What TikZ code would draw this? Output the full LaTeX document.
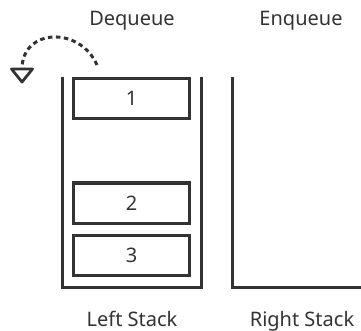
\documentclass[tikz,border=0pt]{standalone}
\usepackage{fontspec}
\setmainfont{Noto Sans}
\definecolor{ink}{HTML}{333333}
\begin{document}
\begin{tikzpicture}[x=1pt,y=-1pt,
  wall/.style={draw=ink,line width=3pt},
  item/.style={draw=ink,line width=3pt,minimum width=116pt,minimum height=40pt,
    inner sep=0pt,font=\fontsize{20}{24}\selectfont,text=ink},
  label/.style={font=\fontsize{20}{24}\selectfont,text=ink,inner sep=0pt,anchor=base},
  flow/.style={draw=ink,line width=3pt,dash pattern=on 4.5pt off 3.5pt},
  head/.style={draw=ink,line width=2.8pt,line join=round}]
\useasboundingbox (0,0) rectangle (361,331);
\clip (0,0) rectangle (361,331);

% column labels
\node[label] (deq) at (132,26) {Dequeue};
\node[label] (enq) at (301,26) {Enqueue};
\node[label] (ls) at (132,326) {Left Stack};
\node[label] (rs) at (302,326) {Right Stack};

% the two stacks
\draw[wall] (62,77) -- (62,287) -- (201,287) -- (201,77);
\draw[wall] (232,77) -- (232,287) -- (370,287);

% items held in the left stack
\node[item] (b1) at (131.5,98.5) {1};
\node[item] (b2) at (131.5,203) {2};
\node[item] (b3) at (131.5,255.5) {3};

% dequeue arrow leaving the top of the left stack
\coordinate (out) at (22,82);
\coordinate (neck) at (22,69);
\draw[flow] (b1.north west) ++(25,-12) .. controls (80,26) and (22,28) .. (neck);
\draw[head] (neck) ++(-10.5,0) -- ++(21,0) -- (out) -- cycle;
\end{tikzpicture}
\end{document}
